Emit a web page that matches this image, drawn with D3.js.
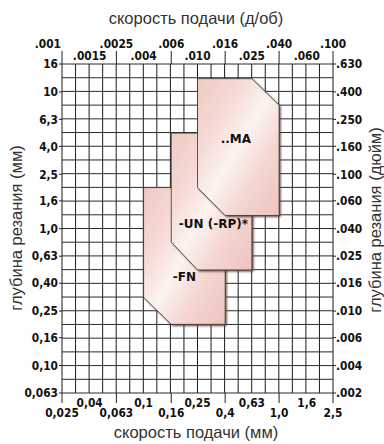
<!DOCTYPE html>
<html><head><meta charset="utf-8">
<script src="https://cdn.jsdelivr.net/npm/d3@7/dist/d3.min.js"></script>
<style>
html,body{margin:0;padding:0;background:#fff;}
svg{display:block;}
.tick{font-family:"DejaVu Sans Condensed","DejaVu Sans",sans-serif;font-stretch:condensed;font-weight:bold;font-size:11.8px;fill:#111;}
.title{font-family:"Liberation Sans",Arial,sans-serif;font-size:16.5px;fill:#333;}
.lab{font-family:"DejaVu Sans",sans-serif;font-weight:bold;font-size:12px;fill:#111;}
</style></head>
<body>
<script>
// ---- data ----
const feedMmTicks = ["0,025","0,04","0,063","0,1","0,16","0,25","0,4","0,63","1,0","1,6","2,5"];
const feedMmValues = [0.025,0.04,0.063,0.1,0.16,0.25,0.4,0.63,1.0,1.6,2.5];
const feedInTicks = [".001",".0015",".0025",".004",".006",".010",".016",".025",".040",".060",".100"];
const depthMmTicks = ["16","10","6,3","4,0","2,5","1,6","1,0","0,63","0,40","0,25","0,16","0,10","0,063"];
const depthMmValues = [16,10,6.3,4.0,2.5,1.6,1.0,0.63,0.40,0.25,0.16,0.10,0.063];
const depthInTicks = [".630",".400",".250",".160",".100",".060",".040",".025",".016",".010",".006",".004",".002"];

const regionNames = ["-FN","-UN (-RP)*","..MA"];
// polygon vertices: feed (mm/rev) and depth (mm)
const fnFeed = [0.1,0.25,0.4,0.4,0.16,0.1];
const fnDepth = [2.0,2.0,1.25,0.2,0.2,0.315];
const unFeed = [0.16,0.4,0.63,0.63,0.25,0.16];
const unDepth = [5.0,5.0,3.15,0.5,0.5,0.8];
const maFeed = [0.25,0.63,1.0,1.0,0.4,0.25];
const maDepth = [12.5,12.5,8.0,1.25,1.25,2.0];
// label anchors (feed, depth)
const labelFeed = [0.2,0.328,0.48];
const labelDepth = [0.447,1.09,4.54];

// ---- layout ----
const W=384,H=444;
const L=62,R=333,T=64,B=393;
const x = d3.scaleLog().domain([0.025,2.5]).range([L,R]);
const y = d3.scaleLog().domain([0.063,16]).range([B,T]);

const svg = d3.select("body").append("svg").attr("width",W).attr("height",H);
const defs = svg.append("defs");
const grad = defs.append("linearGradient").attr("id","pink").attr("x1","0").attr("y1","0").attr("x2","1").attr("y2","1");
[[0,"#f0cac3"],[0.28,"#f5dad5"],[0.5,"#fcf3f1"],[0.72,"#f4d6d1"],[1,"#eec4bd"]].forEach(s=>grad.append("stop").attr("offset",s[0]).attr("stop-color",s[1]));
const f = defs.append("filter").attr("id","sh").attr("x","-20%").attr("y","-20%").attr("width","140%").attr("height","140%");
f.append("feGaussianBlur").attr("stdDeviation",0.9);

// grid
const nCols=20,nRows=24;
const colVals = d3.range(nCols+1).map(i=>x.invert(L+(R-L)*i/nCols));
const rowVals = d3.range(nRows+1).map(i=>y.invert(T+(B-T)*i/nRows));
const g = svg.append("g");
g.selectAll("line.v").data(colVals).join("line")
  .attr("x1",d=>x(d)).attr("x2",d=>x(d)).attr("y1",T).attr("y2",B)
  .attr("stroke","#1a1a1a").attr("stroke-width",1);
g.selectAll("line.h").data(rowVals).join("line")
  .attr("y1",d=>y(d)).attr("y2",d=>y(d)).attr("x1",L).attr("x2",R)
  .attr("stroke","#2a2a2a").attr("stroke-width",1);

// long ticks at far labels (top & bottom), border extensions
feedMmValues.forEach((v,i)=>{
  if(i%2===0){
    g.append("line").attr("x1",x(v)).attr("x2",x(v)).attr("y1",51).attr("y2",T).attr("stroke","#222");
    g.append("line").attr("x1",x(v)).attr("x2",x(v)).attr("y1",B).attr("y2",403).attr("stroke","#222");
  }
});
depthMmValues.forEach(v=>{
  g.append("line").attr("x1",L-3).attr("x2",L).attr("y1",y(v)).attr("y2",y(v)).attr("stroke","#222");
  g.append("line").attr("x1",R).attr("x2",R+3).attr("y1",y(v)).attr("y2",y(v)).attr("stroke","#222");
});

// regions
const regions = [
  {feed:fnFeed,depth:fnDepth},
  {feed:unFeed,depth:unDepth},
  {feed:maFeed,depth:maDepth}
];
regions.forEach((r,i)=>{
  const pts = r.feed.map((fv,k)=>[x(fv),y(r.depth[k])]);
  const line = d3.line()(pts)+"Z";
  svg.append("path").attr("d",line).attr("transform","translate(1.6,1.6)")
    .attr("fill","#5a4846").attr("filter","url(#sh)");
  svg.append("path").attr("d",line).attr("fill","url(#pink)")
    .attr("stroke","#3b302f").attr("stroke-width",0.8).attr("stroke-linejoin","miter");
});
regionNames.forEach((n,i)=>{
  svg.append("text").attr("class","lab").attr("x",x(labelFeed[i])).attr("y",y(labelDepth[i]))
    .attr("dy","0.36em").attr("text-anchor","middle").text(n);
});

// tick labels
feedMmTicks.forEach((t,i)=>{
  svg.append("text").attr("class","tick").attr("x",x(feedMmValues[i]))
    .attr("y", i%2===0 ? 417 : 407).attr("text-anchor","middle").text(t);
});
feedInTicks.forEach((t,i)=>{
  svg.append("text").attr("class","tick").attr("x", i===0 ? x(feedMmValues[i])-1 : x(feedMmValues[i]))
    .attr("y", i%2===0 ? 48 : 60).attr("text-anchor", i===0 ? "end" : "middle").text(t);
});
depthMmTicks.forEach((t,i)=>{
  svg.append("text").attr("class","tick").attr("x",58).attr("y",y(depthMmValues[i]))
    .attr("dy","0.36em").attr("text-anchor","end").text(t);
});
depthInTicks.forEach((t,i)=>{
  svg.append("text").attr("class","tick").attr("x",336).attr("y",y(depthMmValues[i]))
    .attr("dy","0.36em").attr("text-anchor","start").text(t);
});

// titles
svg.append("text").attr("class","title").attr("x",196).attr("y",24).attr("text-anchor","middle").text("скорость подачи (д/об)");
svg.append("text").attr("class","title").attr("x",196).attr("y",438).attr("text-anchor","middle").text("скорость подачи (мм)");
svg.append("text").attr("class","title").attr("transform","translate(22,228) rotate(-90)").attr("text-anchor","middle").text("глубина резания (мм)");
svg.append("text").attr("class","title").attr("transform","translate(381,220) rotate(-90)").attr("text-anchor","middle").text("глубина резания (дюйм)");
</script>
</body></html>
